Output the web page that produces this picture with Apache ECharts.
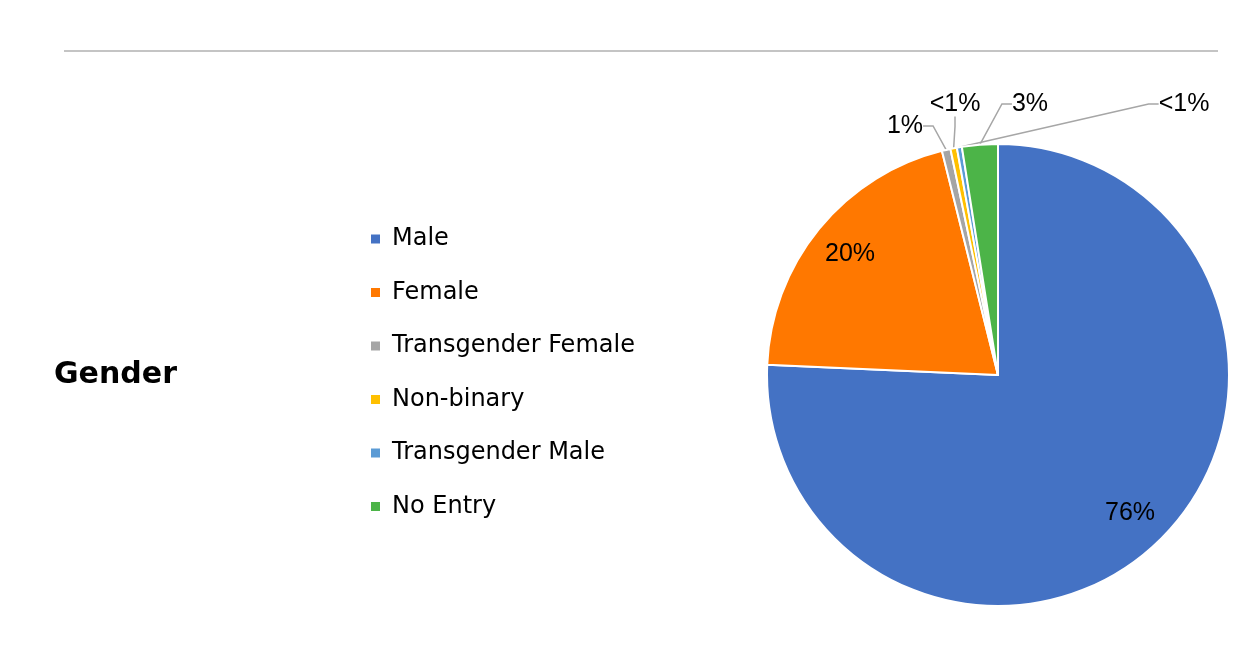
<!DOCTYPE html>
<html>
<head>
<meta charset="utf-8">
<script src="https://cdn.jsdelivr.net/npm/echarts@6/dist/echarts.min.js"></script>
<style>
  html, body { margin: 0; padding: 0; background: #fff; }
  #grafico { width: 1234px; height: 658px; }
</style>
</head>
<body>
<div id="grafico"></div>
<script>
/* dados do gráfico */
var categorias = ['Male', 'Female', 'Transgender Female', 'Non-binary', 'Transgender Male', 'No Entry'];
var valores = [75.7, 20.4, 0.6, 0.45, 0.35, 2.5];
var rotulos = ['76%', '20%', '1%', '<1%', '<1%', '3%'];
var cores = ['#4472C4', '#FF7800', '#A5A5A5', '#FFC000', '#5B9BD5', '#4CB448'];

/* posição dos rótulos pequenos (fora da pizza) */
var posRotulos = {
    2: [905, 126],
    3: [955, 104],
    4: [1184, 104],
    5: [1030, 104]
};

var dom = document.getElementById("grafico");
var myChart = echarts.init(dom);

var centro = [998, 375];
var raio = 231;

var dadosPizza = categorias.map(function (nome, i) {
    var grande = valores[i] > 10;
    return {
        name: nome,
        value: valores[i],
        itemStyle: { color: cores[i] },
        label: { show: !grande },
        labelLine: { show: !grande }
    };
});

var dadosRotulo = categorias.map(function (nome, i) {
    return {
        name: nome,
        value: valores[i],
        label: { show: valores[i] > 10 }
    };
});

var option = {
    animation: false,
    title: {
        text: 'Gender',
        left: 49,
        top: 355,
        textStyle: {
            fontFamily: 'DejaVu Sans',
            fontWeight: 'bold',
            fontSize: 30,
            color: '#000'
        }
    },
    legend: {
        orient: 'vertical',
        left: 369,
        top: 227,
        padding: 0,
        icon: 'rect',
        itemWidth: 11,
        itemHeight: 11,
        itemGap: 29.5,
        data: categorias,
        textStyle: {
            fontFamily: 'DejaVu Sans',
            fontSize: 24,
            lineHeight: 24,
            color: '#000',
            padding: [0, 0, 0, 6]
        }
    },
    graphic: [{
        type: 'line',
        shape: { x1: 64, y1: 51, x2: 1218, y2: 51 },
        style: { stroke: '#B0B0B0', lineWidth: 1.5 },
        silent: true
    }],
    series: [{
        name: 'Gender',
        type: 'pie',
        center: centro,
        radius: [0, raio],
        startAngle: 90,
        clockwise: true,
        avoidLabelOverlap: false,
        itemStyle: { borderColor: '#fff', borderWidth: 2 },
        label: {
            position: 'outside',
            fontFamily: 'Liberation Sans',
            fontSize: 25,
            color: '#000',
            formatter: function (p) { return rotulos[p.dataIndex]; }
        },
        labelLine: {
            length: 10,
            length2: 10,
            lineStyle: { color: '#A6A6A6', width: 1.5 }
        },
        labelLayout: function (p) {
            var pos = posRotulos[p.dataIndex];
            if (!pos) return {};
            return { x: pos[0], y: pos[1], align: 'center', verticalAlign: 'middle' };
        },
        emphasis: { disabled: true },
        data: dadosPizza
    }, {
        name: 'rotulos',
        type: 'pie',
        center: centro,
        radius: [145, raio],
        startAngle: 90,
        clockwise: true,
        silent: true,
        itemStyle: { color: 'rgba(0,0,0,0)' },
        label: {
            position: 'inside',
            fontFamily: 'Liberation Sans',
            fontSize: 25,
            color: '#000',
            formatter: function (p) { return rotulos[p.dataIndex]; }
        },
        labelLine: { show: false },
        emphasis: { disabled: true },
        data: dadosRotulo
    }]
};

if (option && typeof option === "object") {
    myChart.setOption(option, true);
}
</script>
</body>
</html>
